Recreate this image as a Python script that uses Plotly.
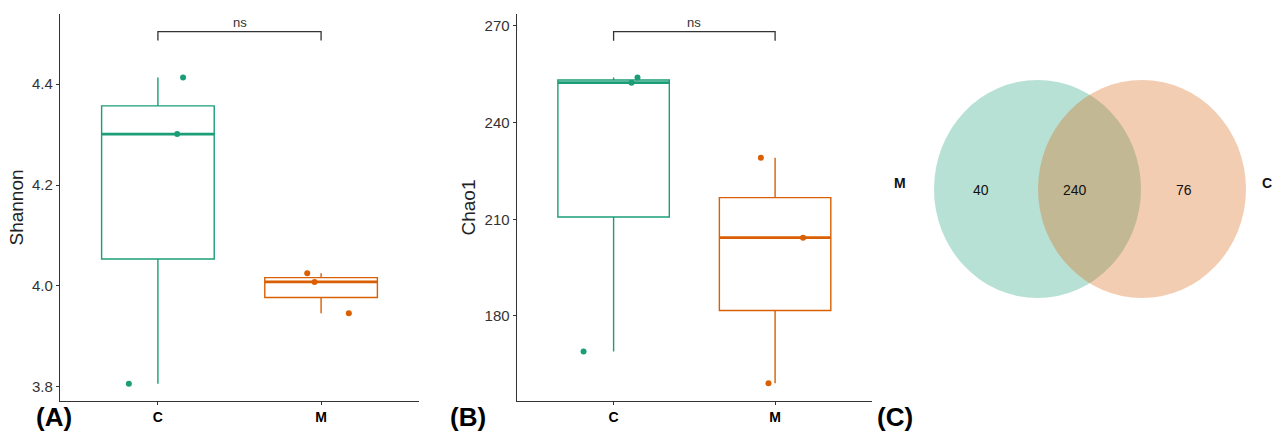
import statistics
import plotly.graph_objects as go

# ---------------- data ----------------
groups = ["C", "M"]
shannon_C = [4.413, 4.301, 3.806]
shannon_M = [4.025, 4.008, 3.946]
shannon_jitter_C = [0.154, 0.118, -0.178]
shannon_jitter_M = [-0.085, -0.040, 0.170]

chao1_C = [254.0, 252.4, 169.0]
chao1_M = [229.1, 204.3, 159.1]
chao1_jitter_C = [0.148, 0.111, -0.186]
chao1_jitter_M = [-0.088, 0.173, -0.041]

venn_sets = ["M", "C"]
venn_only_M = 40
venn_shared = 240
venn_only_C = 76

sig_label = "ns"

# ---------------- styles ----------------
TEAL = "#1B9E77"
ORANGE = "#D95F02"
AXIS = "#333333"
FONT = "Liberation Sans, Arial, sans-serif"
W, H = 1283, 434
BOX_W = 0.69

def px_x(p):
    return p / W

def px_y(p):
    return 1 - p / H

fig = go.Figure()

panels = [
    dict(x="x", y="y", data=[shannon_C, shannon_M], jit=[shannon_jitter_C, shannon_jitter_M]),
    dict(x="x2", y="y2", data=[chao1_C, chao1_M], jit=[chao1_jitter_C, chao1_jitter_M]),
]
colors = [TEAL, ORANGE]

for p in panels:
    for gi, (vals, jit) in enumerate(zip(p["data"], p["jit"])):
        pos = gi + 1
        fig.add_trace(go.Box(
            x=[pos] * len(vals), y=vals, xaxis=p["x"], yaxis=p["y"],
            quartilemethod="inclusive", boxpoints=False, width=BOX_W,
            whiskerwidth=0, line=dict(color=colors[gi], width=1.4),
            fillcolor="rgba(255,255,255,0)", showlegend=False, hoverinfo="y",
        ))
        med = statistics.median(vals)
        fig.add_trace(go.Scatter(
            x=[pos - BOX_W / 2, pos + BOX_W / 2], y=[med, med],
            xaxis=p["x"], yaxis=p["y"], mode="lines",
            line=dict(color=colors[gi], width=2.6), showlegend=False, hoverinfo="skip",
        ))
        fig.add_trace(go.Scatter(
            x=[pos + j for j in jit], y=vals, xaxis=p["x"], yaxis=p["y"],
            mode="markers", marker=dict(color=colors[gi], size=6),
            showlegend=False,
        ))

# axes
ydom = [px_y(401), px_y(14)]
common_x = dict(range=[0.4, 2.6], tickvals=[1, 2],
                ticktext=["<b>%s</b>" % g for g in groups],
                showgrid=False, zeroline=False, showline=True, linecolor=AXIS,
                linewidth=1.2, ticks="outside", ticklen=3, tickcolor=AXIS,
                automargin=False,
                tickfont=dict(family=FONT, size=14, color="#000"))
common_y = dict(showgrid=False, zeroline=False, showline=True, linecolor=AXIS,
                linewidth=1.2, ticks="outside", ticklen=3, tickcolor=AXIS,
                automargin=False,
                tickfont=dict(family=FONT, size=15, color="#333"), domain=ydom)

fig.update_layout(
    xaxis=dict(domain=[px_x(60), px_x(419)], anchor="y", **common_x),
    yaxis=dict(range=[3.772, 4.539], tickvals=[3.8, 4.0, 4.2, 4.4],
               ticktext=["3.8", "4.0", "4.2", "4.4"], anchor="x",
               title=dict(text="Shannon", font=dict(family=FONT, size=19, color="#222"), standoff=3),
               **common_y),
    xaxis2=dict(domain=[px_x(516.7), px_x(872)], anchor="y2", **common_x),
    yaxis2=dict(range=[153.6, 273.7], tickvals=[180, 210, 240, 270], anchor="x2",
                title=dict(text="Chao1", font=dict(family=FONT, size=19, color="#222"), standoff=3),
                **common_y),
)

# significance brackets
brackets = [("x", "y", 4.504, 4.4865), ("x2", "y2", 268.2, 265.4)]
for xr, yr, ytop, ytip in brackets:
    fig.add_shape(type="path", xref=xr, yref=yr,
                  path=f"M 1 {ytip} L 1 {ytop} L 2 {ytop} L 2 {ytip}",
                  line=dict(color=AXIS, width=1.3))
    fig.add_annotation(x=1.5, y=ytop, xref=xr, yref=yr, text=sig_label,
                       showarrow=False, yanchor="bottom", yshift=0,
                       font=dict(family=FONT, size=13, color="#333"))

# Venn diagram (circles in pixel-based paper coords)
circles = [
    (934, 80, 1141, 298, "rgba(27,158,119,0.31)"),
    (1038, 80, 1246, 298, "rgba(217,95,2,0.31)"),
]
for x0, y0, x1, y1, col in circles:
    fig.add_shape(type="circle", xref="paper", yref="paper",
                  x0=px_x(x0), x1=px_x(x1), y0=px_y(y1), y1=px_y(y0),
                  fillcolor=col, line=dict(width=0), layer="above")

venn_texts = [
    (990.7, 189.5, str(venn_only_M), False),
    (1089.3, 189.5, str(venn_shared), False),
    (1194, 189.5, str(venn_only_C), False),
    (908, 183, venn_sets[0], True),
    (1274, 183, venn_sets[1], True),
]
for x, y, t, bold in venn_texts:
    fig.add_annotation(x=px_x(x), y=px_y(y), xref="paper", yref="paper",
                       text=("<b>%s</b>" % t) if bold else t, showarrow=False,
                       font=dict(family=FONT, size=14, color="#111"))

# panel labels (anchored at the bottom edge of the page)
for x, t in [(34, "(A)"), (468, "(B)"), (915, "(C)")]:
    fig.add_annotation(x=px_x(x), y=0, xref="paper", yref="paper",
                       yanchor="bottom", yshift=0,
                       text="<b>%s</b>" % t, showarrow=False,
                       font=dict(family=FONT, size=26, color="#000"))

fig.update_layout(width=W, height=H, margin=dict(l=0, r=0, t=0, b=0),
                  plot_bgcolor="white", paper_bgcolor="white", showlegend=False)

fig.write_html("out.html", config={"displayModeBar": False},
               post_script="document.body.style.margin='0px';")
